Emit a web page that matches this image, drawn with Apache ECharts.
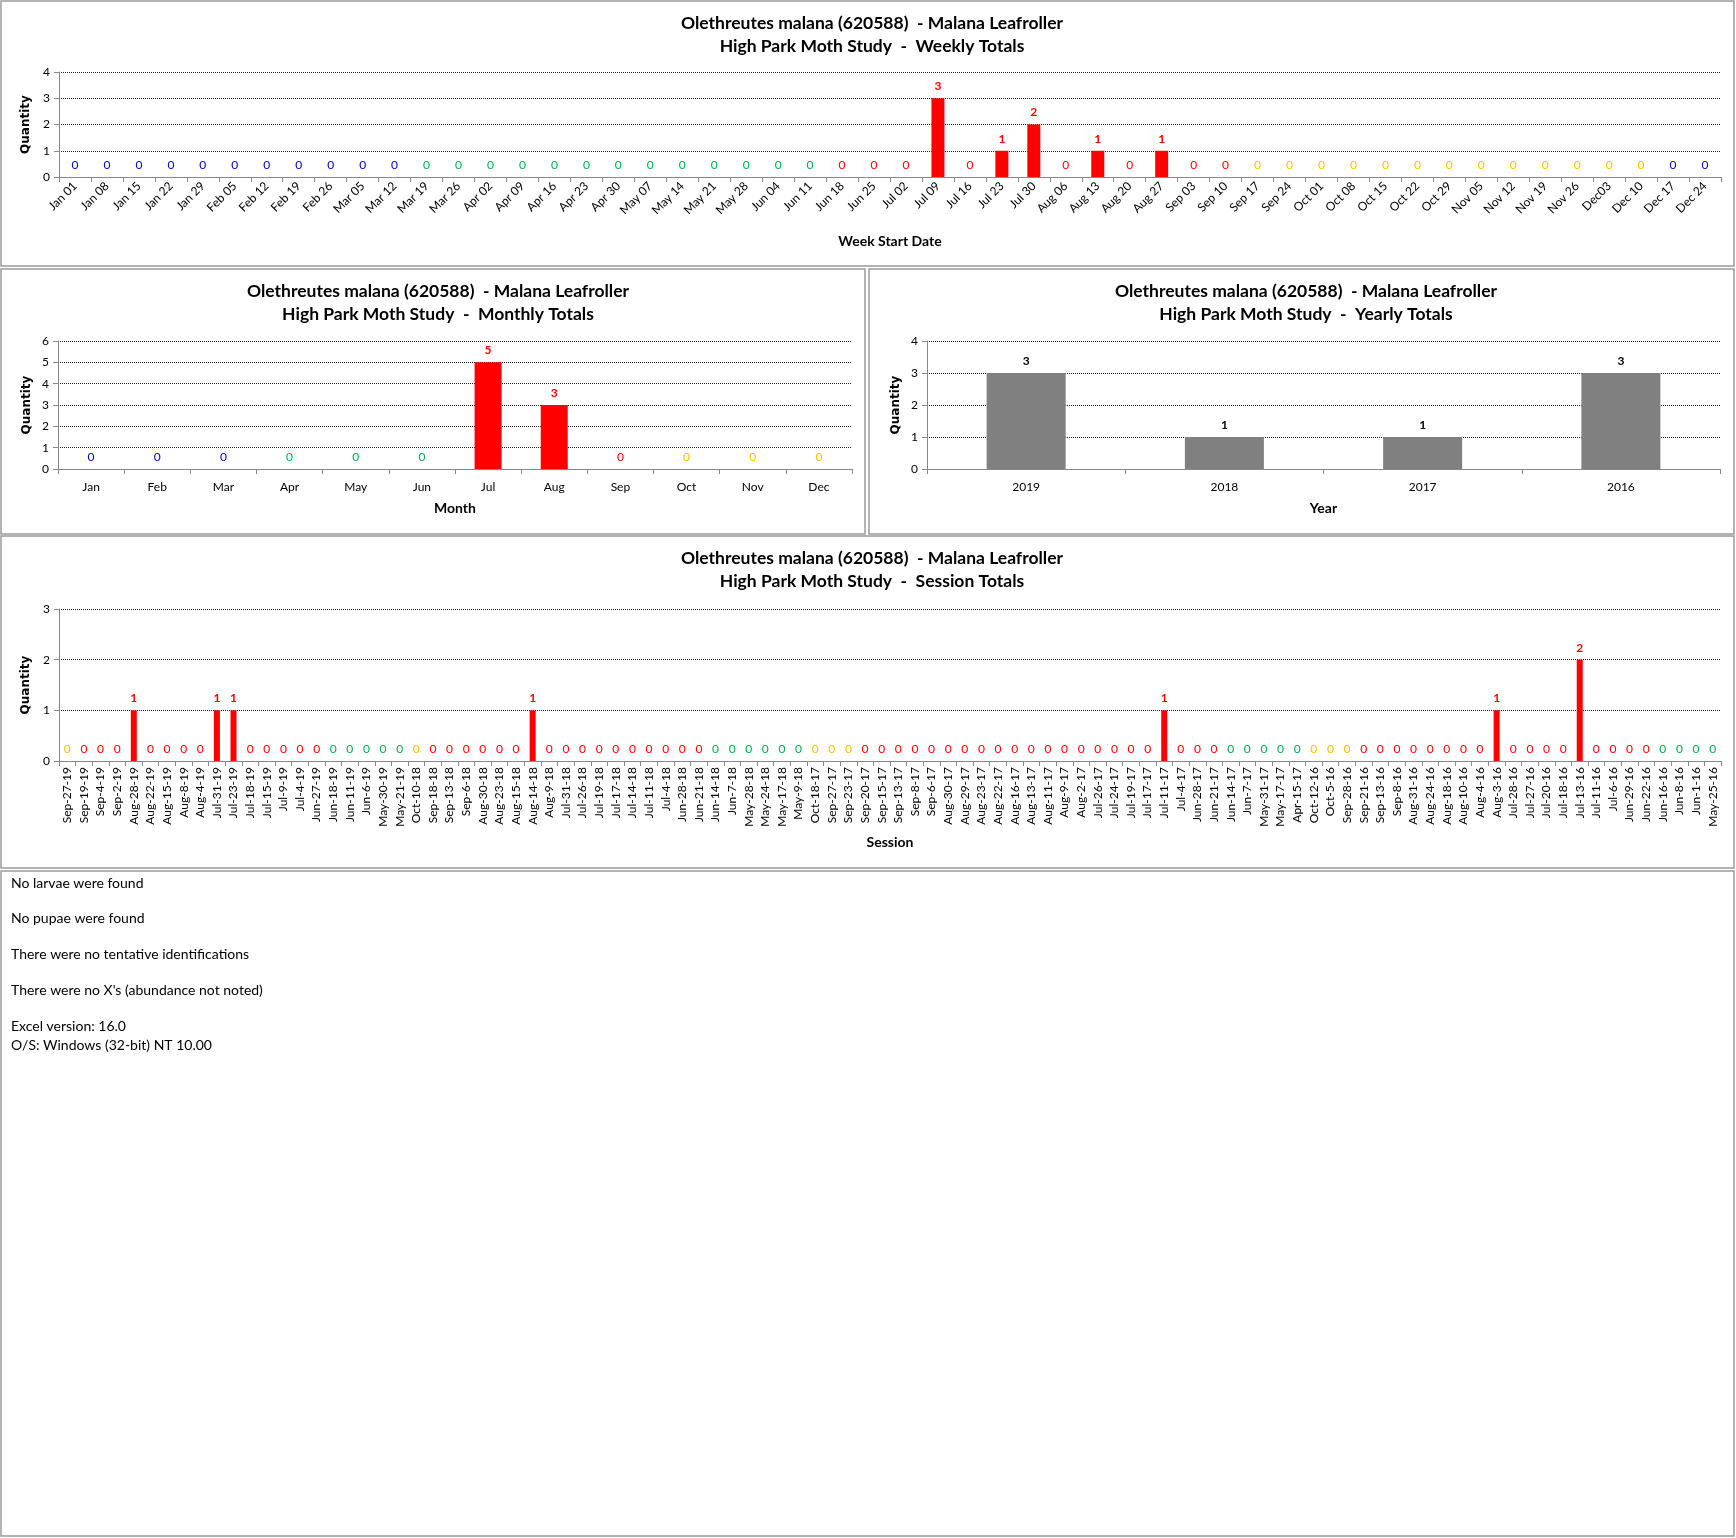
<!DOCTYPE html>
<html>
<head>
<meta charset="utf-8">
<title>Olethreutes malana (620588) - Malana Leafroller</title>
<script src="https://cdn.jsdelivr.net/npm/echarts@6/dist/echarts.min.js"></script>
<style>
  html, body { margin: 0; padding: 0; background: #fff; }
  #main { width: 1736px; height: 1538px; }
</style>
</head>
<body>
<div id="main"></div>
<script>
// ---- data ----
const weekLabels = ['Jan 01','Jan 08','Jan 15','Jan 22','Jan 29','Feb 05','Feb 12','Feb 19','Feb 26','Mar 05','Mar 12',
  'Mar 19','Mar 26','Apr 02','Apr 09','Apr 16','Apr 23','Apr 30','May 07','May 14','May 21','May 28','Jun 04','Jun 11',
  'Jun 18','Jun 25','Jul 02','Jul 09','Jul 16','Jul 23','Jul 30','Aug 06','Aug 13','Aug 20','Aug 27','Sep 03','Sep 10',
  'Sep 17','Sep 24','Oct 01','Oct 08','Oct 15','Oct 22','Oct 29','Nov 05','Nov 12','Nov 19','Nov 26','Dec03','Dec 10',
  'Dec 17','Dec 24'];
const weekValues = [0,0,0,0,0,0,0,0,0,0,0,
  0,0,0,0,0,0,0,0,0,0,0,0,0,
  0,0,0,3,0,1,2,0,1,0,1,0,0,
  0,0,0,0,0,0,0,0,0,0,0,0,0,
  0,0];
// season of each week: w winter, s spring, m summer, f fall
const weekSeason = ('wwwwwwwwwww' + 'sssssssssssss' + 'mmmmmmmmmmmmm' + 'fffffffffffff' + 'ww').split('');

const monthLabels = ['Jan','Feb','Mar','Apr','May','Jun','Jul','Aug','Sep','Oct','Nov','Dec'];
const monthValues = [0,0,0,0,0,0,5,3,0,0,0,0];
const monthSeason = 'wwwsssmmmfff'.split('');

const yearLabels = ['2019','2018','2017','2016'];
const yearValues = [3,1,1,3];

const sessionLabels = [
  'Sep-27-19','Sep-19-19','Sep-4-19','Sep-2-19','Aug-28-19','Aug-22-19','Aug-15-19','Aug-8-19','Aug-4-19','Jul-31-19',
  'Jul-23-19','Jul-18-19','Jul-15-19','Jul-9-19','Jul-4-19','Jun-27-19','Jun-18-19','Jun-11-19','Jun-6-19','May-30-19',
  'May-21-19',
  'Oct-10-18','Sep-18-18','Sep-13-18','Sep-6-18','Aug-30-18','Aug-23-18','Aug-15-18','Aug-14-18','Aug-9-18','Jul-31-18',
  'Jul-26-18','Jul-19-18','Jul-17-18','Jul-14-18','Jul-11-18','Jul-4-18','Jun-28-18','Jun-21-18','Jun-14-18','Jun-7-18',
  'May-28-18','May-24-18','May-17-18','May-9-18',
  'Oct-18-17','Sep-27-17','Sep-23-17','Sep-20-17','Sep-15-17','Sep-13-17','Sep-8-17','Sep-6-17','Aug-30-17','Aug-29-17',
  'Aug-23-17','Aug-22-17','Aug-16-17','Aug-13-17','Aug-11-17','Aug-9-17','Aug-2-17','Jul-26-17','Jul-24-17','Jul-19-17',
  'Jul-17-17','Jul-11-17','Jul-4-17','Jun-28-17','Jun-21-17','Jun-14-17','Jun-7-17','May-31-17','May-17-17','Apr-15-17',
  'Oct-12-16','Oct-5-16','Sep-28-16','Sep-21-16','Sep-13-16','Sep-8-16','Aug-31-16','Aug-24-16','Aug-18-16','Aug-10-16',
  'Aug-4-16','Aug-3-16','Jul-28-16','Jul-27-16','Jul-20-16','Jul-18-16','Jul-13-16','Jul-11-16','Jul-6-16','Jun-29-16',
  'Jun-22-16','Jun-16-16','Jun-8-16','Jun-1-16','May-25-16'];
const sessionValues = [
  0,0,0,0,1,0,0,0,0,1, 1,0,0,0,0,0,0,0,0,0, 0,
  0,0,0,0,0,0,0,1,0,0, 0,0,0,0,0,0,0,0,0,0, 0,0,0,0,
  0,0,0,0,0,0,0,0,0,0, 0,0,0,0,0,0,0,0,0,0, 0,1,0,0,0,0,0,0,0,0,
  0,0,0,0,0,0,0,0,0,0, 0,1,0,0,0,0,2,0,0,0, 0,0,0,0,0];
const sessionSeason = (
  'fmmmmmmmmmmmmmmmsssss' +
  'fmmmmmmmmmmmmmmmmmssssss' +
  'fffmmmmmmmmmmmmmmmmmmmmmmsssss' +
  'fffmmmmmmmmmmmmmmmmmmssss').split('');

const notes = [
  'No larvae were found',
  'No pupae were found',
  'There were no tentative identifications',
  "There were no X's (abundance not noted)"
];
const versionNotes = ['Excel version: 16.0', 'O/S: Windows (32-bit) NT 10.00'];

// ---- styling ----
const FONT = 'Lato, "Noto Sans", sans-serif';
const seasonColor = { w: '#0000C0', s: '#00B050', m: '#FF0000', f: '#FFC000' };

function barData(values, seasons, labelColor) {
  return values.map((v, i) => ({
    value: v,
    label: {
      color: labelColor || seasonColor[seasons[i]],
      fontWeight: v > 0 ? 'bold' : 'normal'
    }
  }));
}

const titleText = (kind) =>
  'Olethreutes malana (620588)  - Malana Leafroller\nHigh Park Moth Study  -  ' + kind;

function title(kind, x, top) {
  return {
    text: titleText(kind),
    left: x, top: top, textAlign: 'center',
    textStyle: { fontFamily: FONT, fontSize: 17.5, fontWeight: 'bold', color: '#000', lineHeight: 23 }
  };
}

function catAxis(idx, data, name, nameGap, rotate, margin) {
  return {
    type: 'category', gridIndex: idx, data: data,
    name: name, nameLocation: 'middle', nameGap: nameGap,
    nameTextStyle: { fontFamily: FONT, fontSize: 14, fontWeight: 'bold', color: '#000' },
    axisLine: { lineStyle: { color: '#888', width: 1 } },
    axisTick: { show: true, alignWithLabel: false, length: 5, lineStyle: { color: '#888' } },
    axisLabel: { interval: 0, rotate: rotate, fontFamily: FONT, fontSize: 12, color: '#000', margin: margin },
    splitLine: { show: false }
  };
}

function valAxis(idx, max) {
  return {
    type: 'value', gridIndex: idx, min: 0, max: max, interval: 1,
    name: 'Quantity', nameLocation: 'middle', nameGap: 25, nameRotate: 90,
    nameTextStyle: { fontFamily: '"DejaVu Sans", sans-serif', fontSize: 12, fontWeight: 'bold', color: '#000' },
    axisLine: { show: true, lineStyle: { color: '#888', width: 1 } },
    axisTick: { show: true, length: 5, lineStyle: { color: '#888' } },
    axisLabel: { fontFamily: FONT, fontSize: 12, color: '#000', margin: 9 },
    splitLine: { show: true, lineStyle: { color: '#222', type: 'dotted', width: 1 } }
  };
}

function barSeries(idx, data, color, width) {
  return {
    type: 'bar', xAxisIndex: idx, yAxisIndex: idx,
    data: data, barWidth: width,
    itemStyle: { color: color },
    label: { show: true, position: 'top', distance: 6, fontFamily: FONT, fontSize: 12 },
    animation: false
  };
}

const borders = [
  [1, 1, 1733, 265],
  [1, 269, 864, 265],
  [869, 269, 865, 265],
  [1, 536, 1733, 332],
  [1, 871, 1733, 665]
].map(r => ({
  type: 'rect', shape: { x: r[0], y: r[1], width: r[2], height: r[3] },
  style: { fill: null, stroke: '#9a9a9a', lineWidth: 1.5 }, silent: true
}));

const noteText = [];
notes.forEach((t, i) => noteText.push({
  type: 'text', left: 11, top: 876 + i * 35.7,
  style: { text: t, font: '14px ' + FONT, fill: '#000' }
}));
versionNotes.forEach((t, i) => noteText.push({
  type: 'text', left: 11, top: 1019 + i * 19,
  style: { text: t, font: '14px ' + FONT, fill: '#000' }
}));

const option = {
  animation: false,
  title: [
    title('Weekly Totals', 867, 7),
    title('Monthly Totals', 433, 275),
    title('Yearly Totals', 1301, 275),
    title('Session Totals', 867, 542)
  ],
  grid: [
    { left: 59, top: 72, width: 1662, height: 105 },
    { left: 58, top: 341, width: 794, height: 128 },
    { left: 927, top: 341, width: 793, height: 128 },
    { left: 59, top: 609, width: 1662, height: 152 }
  ],
  xAxis: [
    catAxis(0, weekLabels, 'Week Start Date', 57, 45, 7),
    catAxis(1, monthLabels, 'Month', 32, 0, 12),
    catAxis(2, yearLabels, 'Year', 32, 0, 12),
    catAxis(3, sessionLabels, 'Session', 74, 90, 6)
  ],
  yAxis: [
    valAxis(0, 4),
    valAxis(1, 6),
    valAxis(2, 4),
    valAxis(3, 3)
  ],
  series: [
    barSeries(0, barData(weekValues, weekSeason), '#FF0000', 13),
    barSeries(1, barData(monthValues, monthSeason), '#FF0000', 27),
    barSeries(2, barData(yearValues, null, '#000'), '#808080', 79),
    barSeries(3, barData(sessionValues, sessionSeason), '#FF0000', 6)
  ],
  graphic: borders.concat(noteText)
};

const myChart = echarts.init(document.getElementById('main'));
myChart.setOption(option);
</script>
</body>
</html>
